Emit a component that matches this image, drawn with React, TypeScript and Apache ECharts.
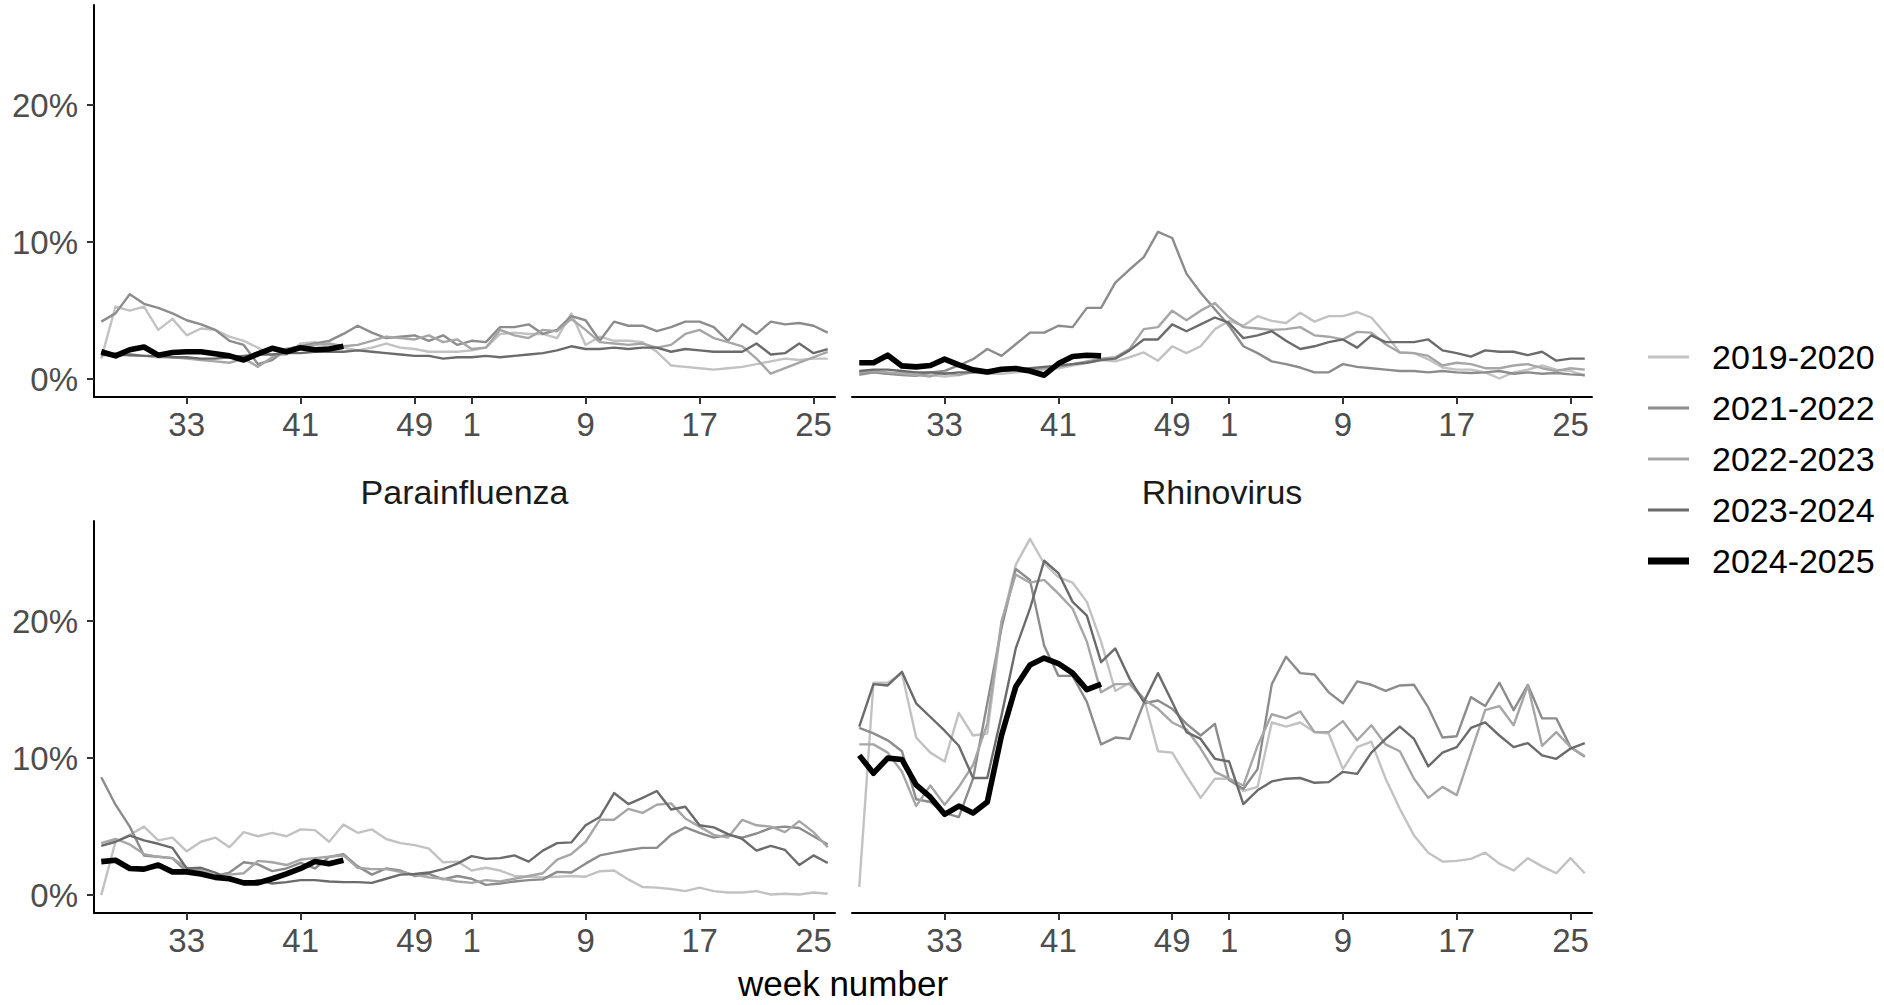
import React, { useEffect, useRef } from "react";
import * as echarts from "echarts";

// ---------- categories / ticks ----------
const SEASON_WEEKS = [
  27, 28, 29, 30, 31, 32, 33, 34, 35, 36, 37, 38, 39, 40, 41, 42, 43, 44, 45, 46, 47, 48, 49, 50, 51, 52,
  1, 2, 3, 4, 5, 6, 7, 8, 9, 10, 11, 12, 13, 14, 15, 16, 17, 18, 19, 20, 21, 22, 23, 24, 25, 26,
];
const TICK_WEEKS = [33, 41, 49, 1, 9, 17, 25];
const Y_TICKS = [0, 10, 20];
const SEASONS = ["2019-2020", "2021-2022", "2022-2023", "2023-2024", "2024-2025"];
const SEASON_COLORS = ["#c2c2c2", "#8c8c8c", "#a6a6a6", "#6b6b6b", "#000000"];
const SEASON_WIDTHS = [2.4, 2.4, 2.4, 2.4, 5.6];
const LEGEND_WIDTHS = [2.8, 2.8, 2.8, 2.8, 7];
const PANEL_TITLES = ["", "", "Parainfluenza", "Rhinovirus"];
const X_TITLE = "week number";

// ---------- panel 1 (top left) ----------
const P1_2019 = [1.5, 5.3, 5.0, 5.3, 3.6, 4.4, 3.2, 3.7, 3.6, 3.1, 2.8, 2.3, 1.7, 1.8, 2.6, 2.7, 2.4, 2.3, 2.1, 2.3, 2.6, 2.3, 2.2, 2.0, 2.0, 2.0, 2.1, 2.3, 3.3, 3.4, 3.3, 3.3, 3.0, 4.8, 2.5, 3.1, 2.8, 2.8, 2.7, 2.0, 1.0, 0.9, 0.8, 0.7, 0.8, 0.9, 1.1, 1.3, 1.5, 1.4, 1.5, 1.5];
const P1_2021 = [4.2, 4.8, 6.2, 5.5, 5.2, 4.8, 4.3, 4.0, 3.6, 2.8, 2.5, 1.1, 1.4, 2.2, 2.4, 2.6, 2.8, 3.3, 3.9, 3.4, 3.0, 3.1, 3.2, 2.8, 3.2, 2.5, 2.8, 2.7, 3.8, 3.8, 4.0, 3.3, 3.6, 4.6, 4.3, 2.8, 4.2, 3.9, 3.9, 3.5, 3.8, 4.2, 4.2, 3.8, 2.8, 4.0, 3.3, 4.2, 4.0, 4.1, 3.9, 3.4];
const P1_2022 = [1.7, 1.9, 1.7, 1.7, 1.6, 1.6, 1.5, 1.4, 1.3, 1.2, 1.5, 0.9, 1.6, 2.2, 2.3, 2.5, 2.6, 2.4, 2.5, 2.8, 3.1, 3.0, 2.9, 3.2, 2.7, 2.9, 2.2, 2.3, 3.6, 3.2, 3.0, 3.6, 3.5, 4.4, 3.6, 2.7, 2.6, 2.5, 2.6, 2.3, 2.5, 3.3, 3.6, 3.0, 2.7, 2.4, 1.5, 0.4, 0.8, 1.2, 1.6, 2.0];
const P1_2023 = [1.8, 1.7, 1.8, 1.7, 1.7, 1.6, 1.6, 1.5, 1.5, 1.6, 1.7, 1.8, 1.8, 1.9, 1.9, 2.0, 2.0, 2.0, 2.1, 2.0, 1.9, 1.8, 1.7, 1.7, 1.5, 1.6, 1.6, 1.7, 1.6, 1.7, 1.8, 1.9, 2.1, 2.4, 2.2, 2.2, 2.3, 2.2, 2.3, 2.3, 2.0, 2.2, 2.1, 2.0, 2.0, 2.0, 2.6, 1.8, 1.9, 2.6, 1.9, 2.2];
const P1_2024 = [2.0, 1.7, 2.15, 2.35, 1.75, 1.95, 2.0, 2.0, 1.85, 1.7, 1.4, 1.85, 2.25, 2.0, 2.3, 2.15, 2.2, 2.4];

// ---------- panel 2 (top right) ----------
const P2_2019 = [0.3, 0.5, 0.4, 0.5, 0.4, 0.3, 0.2, 0.3, 0.5, 0.4, 0.4, 0.5, 0.6, 0.7, 0.8, 1.0, 1.2, 1.4, 1.3, 1.6, 1.95, 1.35, 2.4, 1.9, 2.4, 3.65, 4.25, 3.9, 4.6, 4.25, 4.1, 4.85, 4.2, 4.6, 4.6, 4.9, 4.5, 3.3, 1.95, 1.9, 1.45, 0.85, 0.7, 0.7, 0.5, 0.05, 0.5, 0.7, 1.0, 0.7, 0.6, 0.25];
const P2_2021 = [0.35, 0.5, 0.4, 0.3, 0.25, 0.5, 0.6, 1.0, 1.46, 2.2, 1.7, 2.55, 3.4, 3.4, 3.9, 3.8, 5.2, 5.2, 7.05, 8.0, 8.9, 10.75, 10.3, 7.7, 6.3, 5.1, 3.9, 2.4, 1.9, 1.3, 1.1, 0.85, 0.5, 0.5, 1.1, 0.9, 0.8, 0.7, 0.6, 0.6, 0.5, 0.6, 0.5, 0.45, 0.5, 0.6, 0.4, 0.5, 0.4, 0.45, 0.35, 0.3];
const P2_2022 = [0.5, 0.6, 0.5, 0.4, 0.3, 0.2, 0.5, 0.3, 0.6, 0.5, 0.7, 0.8, 0.7, 0.8, 0.9, 1.1, 1.3, 1.5, 1.6, 2.2, 3.65, 3.8, 5.0, 4.3, 5.0, 5.55, 4.5, 3.8, 3.7, 3.6, 3.65, 3.8, 3.2, 3.1, 2.9, 3.45, 3.4, 2.55, 1.95, 1.9, 1.7, 1.0, 1.2, 1.1, 0.8, 0.8, 1.0, 1.1, 0.8, 0.6, 0.8, 0.7];
const P2_2023 = [0.6, 0.7, 0.7, 0.6, 0.5, 0.5, 0.4, 0.5, 0.5, 0.6, 0.6, 0.7, 0.8, 0.9, 1.0, 1.1, 1.2, 1.4, 1.5, 2.1, 2.9, 2.9, 4.0, 3.5, 4.0, 4.5, 4.1, 3.0, 3.2, 3.5, 2.8, 2.2, 2.4, 2.7, 2.9, 2.3, 3.2, 2.7, 2.7, 2.7, 2.9, 2.1, 1.9, 1.65, 2.1, 2.0, 2.0, 1.75, 2.0, 1.35, 1.5, 1.5];
const P2_2024 = [1.2, 1.2, 1.75, 0.97, 0.9, 1.0, 1.46, 1.05, 0.68, 0.53, 0.73, 0.78, 0.6, 0.29, 1.14, 1.65, 1.75, 1.7];

// ---------- panel 3 (bottom left, Parainfluenza) ----------
const P3_2019 = [0, 3.9, 4.4, 5.0, 4.0, 4.2, 3.2, 3.9, 4.2, 3.5, 4.6, 4.3, 4.55, 4.3, 4.8, 4.75, 3.9, 5.15, 4.55, 4.8, 4.1, 3.8, 3.65, 3.4, 2.4, 2.45, 1.8, 2.0, 1.8, 1.4, 1.35, 1.3, 1.35, 1.4, 1.35, 1.75, 1.8, 1.15, 0.6, 0.55, 0.45, 0.3, 0.55, 0.3, 0.2, 0.2, 0.3, 0.05, 0.1, 0.05, 0.2, 0.1];
const P3_2021 = [8.6, 6.6, 5.0, 2.9, 2.8, 2.7, 1.7, 1.8, 1.4, 1.65, 2.4, 2.25, 1.75, 1.95, 2.35, 1.95, 2.8, 3.0, 2.1, 1.5, 1.95, 1.8, 1.4, 1.55, 1.15, 1.4, 1.2, 0.75, 0.85, 1.0, 1.1, 1.15, 1.7, 1.65, 2.3, 2.9, 3.1, 3.3, 3.45, 3.45, 4.4, 4.95, 4.55, 4.2, 4.4, 4.2, 4.5, 4.9, 5.0, 4.9, 4.3, 3.7];
const P3_2022 = [3.8, 4.1, 3.7, 3.0, 2.8, 2.7, 2.0, 1.8, 1.4, 1.5, 1.6, 2.5, 2.4, 2.2, 2.6, 2.7, 2.8, 2.9, 2.0, 1.9, 1.9, 1.7, 1.5, 1.3, 1.2, 1.0, 0.9, 1.1, 1.0, 1.2, 1.4, 1.6, 2.6, 3.0, 3.9, 5.5, 5.5, 6.3, 6.0, 6.6, 6.7, 5.6, 5.0, 4.4, 4.2, 5.5, 5.1, 5.0, 4.6, 5.4, 4.6, 3.5];
const P3_2023 = [3.6, 3.9, 4.35, 4.0, 3.75, 3.45, 1.95, 2.0, 1.65, 1.2, 0.8, 1.1, 0.85, 0.95, 1.1, 1.1, 1.0, 0.95, 0.95, 0.9, 1.2, 1.5, 1.55, 1.65, 1.9, 2.3, 2.85, 2.65, 2.7, 2.9, 2.45, 3.25, 3.8, 3.85, 5.1, 5.7, 7.45, 6.65, 7.1, 7.6, 6.25, 6.45, 5.1, 4.95, 4.45, 4.1, 3.25, 3.6, 3.3, 2.2, 2.9, 2.35];
const P3_2024 = [2.45, 2.55, 1.95, 1.9, 2.2, 1.7, 1.7, 1.55, 1.3, 1.2, 0.9, 0.9, 1.2, 1.55, 1.95, 2.45, 2.3, 2.55];

// ---------- panel 4 (bottom right, Rhinovirus) ----------
const P4_2019 = [0.6, 15.5, 15.5, 16.2, 11.5, 10.4, 9.75, 13.3, 11.65, 11.8, 19.8, 24.1, 26.0, 24.2, 23.2, 22.8, 21.4, 18.5, 14.9, 15.5, 14.4, 10.5, 10.4, 8.7, 7.1, 8.5, 8.5, 7.6, 7.9, 12.6, 12.3, 12.6, 11.9, 11.8, 9.2, 10.8, 11.2, 8.5, 6.3, 4.35, 3.1, 2.45, 2.5, 2.65, 3.1, 2.3, 1.8, 2.7, 2.1, 1.6, 2.7, 1.6];
const P4_2021 = [12.2, 11.8, 11.3, 10.5, 7.0, 6.8, 6.0, 5.7, 8.5, 14.0, 19.5, 23.8, 23.0, 18.2, 16.0, 16.0, 14.1, 11.0, 11.5, 11.4, 14.0, 14.2, 13.6, 12.5, 11.65, 12.5, 8.4, 7.75, 9.2, 15.4, 17.4, 16.2, 16.1, 14.8, 14.0, 15.6, 15.35, 14.9, 15.3, 15.35, 13.7, 11.5, 11.6, 14.45, 13.8, 15.5, 13.5, 15.35, 12.9, 12.9, 10.8, 10.1];
const P4_2022 = [11.0, 11.0, 10.4, 9.0, 6.5, 8.0, 6.6, 7.9, 9.5, 12.5, 20.0, 23.4, 22.8, 23.0, 22.0, 20.9, 18.5, 14.8, 15.4, 15.4, 14.3, 13.6, 12.6, 12.1, 10.7, 9.0, 8.5, 8.0, 10.9, 13.2, 12.9, 13.4, 11.9, 11.9, 12.7, 11.3, 12.4, 11.0, 10.5, 8.5, 7.1, 7.9, 7.3, 10.4, 13.5, 13.8, 12.4, 15.3, 10.9, 11.9, 10.8, 10.15];
const P4_2023 = [12.3, 15.4, 15.3, 16.3, 14.0, 13.0, 12.0, 10.9, 8.55, 8.55, 13.1, 18.0, 20.9, 24.4, 23.5, 21.4, 20.4, 17.0, 18.0, 15.8, 14.1, 16.2, 14.1, 11.9, 11.4, 9.95, 9.75, 6.65, 7.65, 8.3, 8.5, 8.55, 8.2, 8.25, 9.0, 8.85, 10.4, 11.4, 12.3, 11.4, 9.4, 10.4, 10.8, 12.2, 12.6, 11.65, 10.8, 11.1, 10.2, 9.95, 10.7, 11.1];
const P4_2024 = [10.2, 8.9, 10.0, 9.9, 8.05, 7.15, 5.9, 6.5, 6.0, 6.8, 11.65, 15.2, 16.8, 17.3, 16.9, 16.2, 15.0, 15.4];

const PANELS = [
  [P1_2019, P1_2021, P1_2022, P1_2023, P1_2024],
  [P2_2019, P2_2021, P2_2022, P2_2023, P2_2024],
  [P3_2019, P3_2021, P3_2022, P3_2023, P3_2024],
  [P4_2019, P4_2021, P4_2022, P4_2023, P4_2024],
];

const FONT = "'Liberation Sans', Arial, Helvetica, sans-serif";

export default function App() {
  const ref = useRef<HTMLDivElement>(null);

  useEffect(() => {
    if (!ref.current) return;
    const chart = echarts.init(ref.current, null, { renderer: "svg" });

    const grids = [
      { left: 94, top: 5, width: 741, height: 392 },
      { left: 852, top: 5, width: 740, height: 392 },
      { left: 94, top: 521, width: 741, height: 392 },
      { left: 852, top: 521, width: 740, height: 392 },
    ];
    const tickIdx = TICK_WEEKS.map((w) => SEASON_WEEKS.indexOf(w));
    const xMin = -0.51;
    const xMax = SEASON_WEEKS.length - 1 + 0.51;
    const yMin = -1.3;
    const yMax = 27.3;

    const xAxes = grids.map((_, g) => ({
      gridIndex: g,
      type: "value",
      min: xMin,
      max: xMax,
      axisLine: { show: true, onZero: false, lineStyle: { color: "#000000", width: 2 } },
      axisTick: { show: true, customValues: tickIdx, length: 7, lineStyle: { color: "#333333", width: 2 } },
      axisLabel: {
        show: true,
        customValues: tickIdx,
        formatter: (v: number) => String(SEASON_WEEKS[Math.round(v)]),
        fontSize: 33,
        color: "#4d4d4d",
        margin: 11,
        fontFamily: FONT,
      },
      splitLine: { show: false },
    }));

    const yAxes = grids.map((_, g) => {
      const left = g % 2 === 0;
      return {
        gridIndex: g,
        type: "value",
        min: yMin,
        max: yMax,
        show: left,
        axisLine: { show: left, onZero: false, lineStyle: { color: "#000000", width: 2 } },
        axisTick: { show: left, customValues: Y_TICKS, length: 7, lineStyle: { color: "#333333", width: 2 } },
        axisLabel: {
          show: left,
          customValues: Y_TICKS,
          formatter: (v: number) => `${v}%`,
          fontSize: 33,
          color: "#4d4d4d",
          margin: 16,
          fontFamily: FONT,
        },
        splitLine: { show: false },
      };
    });

    const series: any[] = [];
    PANELS.forEach((panel, g) => {
      panel.forEach((vals, s) => {
        series.push({
          name: SEASONS[s],
          type: "line",
          xAxisIndex: g,
          yAxisIndex: g,
          data: vals.map((v, i) => [i, v]),
          symbol: "none",
          showSymbol: false,
          silent: true,
          z: 2 + s,
          lineStyle: { color: SEASON_COLORS[s], width: SEASON_WIDTHS[s], cap: "butt", join: "round" },
        });
      });
    });

    const graphics: any[] = [];
    PANEL_TITLES.forEach((t, g) => {
      if (!t) return;
      const gr = grids[g];
      graphics.push({
        type: "text",
        x: gr.left + gr.width / 2,
        y: gr.top - 29,
        style: { text: t, fontSize: 34, fontFamily: FONT, fill: "#1a1a1a", align: "center", verticalAlign: "middle" },
      });
    });
    graphics.push({
      type: "text",
      x: (grids[2].left + grids[3].left + grids[3].width) / 2,
      y: 983,
      style: { text: X_TITLE, fontSize: 35, fontFamily: FONT, fill: "#000000", align: "center", verticalAlign: "middle" },
    });
    SEASONS.forEach((name, k) => {
      const y = 357 + k * 51;
      graphics.push({
        type: "line",
        shape: { x1: 1648, y1: y, x2: 1689, y2: y },
        style: { stroke: SEASON_COLORS[k], lineWidth: LEGEND_WIDTHS[k] },
      });
      graphics.push({
        type: "text",
        x: 1712,
        y: y,
        style: { text: name, fontSize: 34, fontFamily: FONT, fill: "#000000", align: "left", verticalAlign: "middle" },
      });
    });

    chart.setOption({
      animation: false,
      backgroundColor: "#ffffff",
      textStyle: { fontFamily: FONT },
      grid: grids.map((g) => ({ ...g, containLabel: false })),
      xAxis: xAxes,
      yAxis: yAxes,
      series,
      graphic: graphics,
    });

    return () => {
      chart.dispose();
    };
  }, []);

  return (
    <div
      ref={ref}
      style={{ position: "fixed", left: 0, top: 0, width: 1884, height: 1005, background: "#ffffff" }}
    />
  );
}
